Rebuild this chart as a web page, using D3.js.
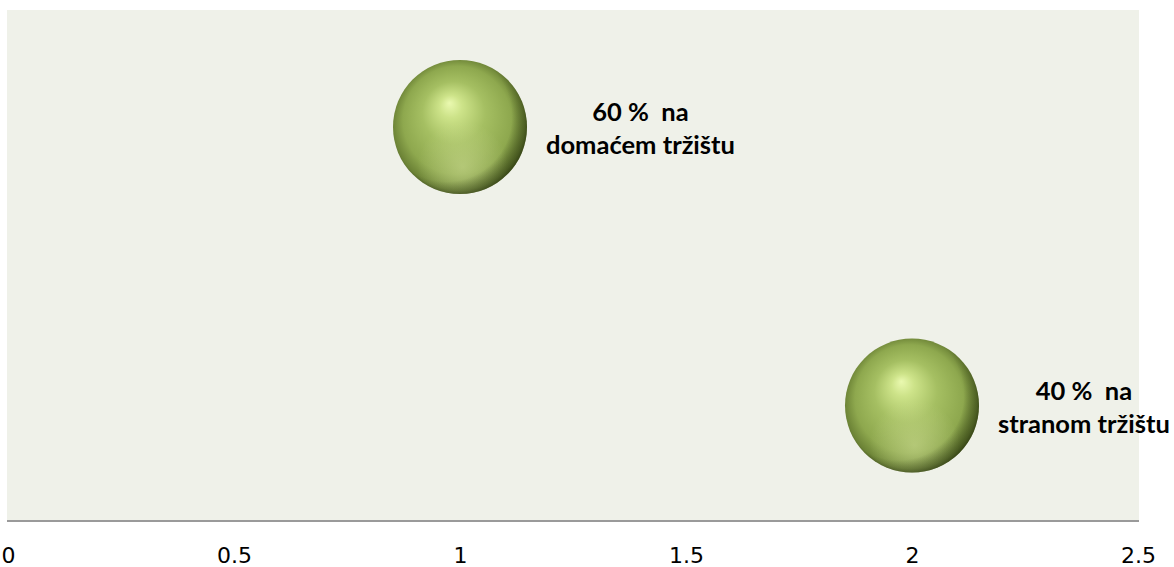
<!DOCTYPE html>
<html>
<head>
<meta charset="utf-8">
<script src="https://cdn.jsdelivr.net/npm/d3@7"></script>
<style>
  html, body { margin: 0; padding: 0; background: #ffffff; }
  svg { display: block; }
</style>
</head>
<body>
<svg id="chart" width="1174" height="567"></svg>
<script>
// ---- data ----
const categories = ["domaće", "strano"];
const xValues = [1, 2];
const yValues = [60, 40];
const bubbleSizes = [1, 1];
const labelLine1 = ["60 %  na", "40 %  na"];
const labelLine2 = ["domaćem tržištu", "stranom tržištu"];
const xTicks = [0, 0.5, 1, 1.5, 2, 2.5];

// ---- layout ----
const plot = { left: 7, right: 1139, top: 10, bottom: 521 };

const svg = d3.select("#chart");

const x = d3.scaleLinear().domain([0, 2.5]).range([8, 1138]);
const y = d3.scaleLinear().domain([31.71, 68.40]).range([plot.bottom, plot.top]);
const r = d3.scaleSqrt().domain([0, 1]).range([0, 67]);

// plot background
svg.append("rect")
  .attr("x", plot.left).attr("y", plot.top)
  .attr("width", plot.right - plot.left)
  .attr("height", plot.bottom - plot.top)
  .attr("fill", "#eff1e9");

// gradients
const defs = svg.append("defs");
const g1 = defs.append("radialGradient")
  .attr("id", "sphere")
  .attr("cx", "0.5").attr("cy", "0.5").attr("r", "0.56")
  .attr("fx", "0.42").attr("fy", "0.32");
[
  [0, "#eaf9b0"],
  [0.15, "#cde389"],
  [0.42, "#a5bf62"],
  [0.72, "#8ea84e"],
  [0.88, "#6c8336"],
  [1, "#2b370f"]
].forEach(([o, c]) => g1.append("stop").attr("offset", o).attr("stop-color", c));

const g2 = defs.append("radialGradient")
  .attr("id", "reflect")
  .attr("cx", "0.52").attr("cy", "0.8").attr("r", "0.34");
g2.append("stop").attr("offset", 0).attr("stop-color", "#d4e29b").attr("stop-opacity", 0.5);
g2.append("stop").attr("offset", 1).attr("stop-color", "#d4e29b").attr("stop-opacity", 0);

const g3 = defs.append("radialGradient")
  .attr("id", "rim")
  .attr("cx", "0.4").attr("cy", "0.42").attr("r", "0.64");
g3.append("stop").attr("offset", 0.76).attr("stop-color", "#1f2a08").attr("stop-opacity", 0);
g3.append("stop").attr("offset", 1).attr("stop-color", "#1f2a08").attr("stop-opacity", 0.6);

// x axis
const axis = d3.axisBottom(x).tickValues(xTicks).tickSize(0).tickPadding(0)
  .tickFormat(d => String(d));
const ax = svg.append("g").attr("transform", `translate(0,${plot.bottom})`).call(axis);
ax.select(".domain").remove();
ax.selectAll("text")
  .attr("dy", null)
  .attr("y", 42)
  .attr("fill", "#000")
  .style("font-family", "'DejaVu Sans', sans-serif")
  .style("font-size", "22px");

svg.append("line")
  .attr("x1", plot.left).attr("x2", plot.right)
  .attr("y1", plot.bottom).attr("y2", plot.bottom)
  .attr("stroke", "#9a9a9a").attr("stroke-width", 2);

// bubbles
const data = categories.map((c, i) => ({
  c, x: xValues[i], y: yValues[i], s: bubbleSizes[i],
  l1: labelLine1[i], l2: labelLine2[i]
}));

const b = svg.append("g").selectAll("g").data(data).join("g");
["sphere", "reflect", "rim"].forEach(id => {
  b.append("circle")
    .attr("cx", d => x(d.x)).attr("cy", d => y(d.y)).attr("r", d => r(d.s))
    .attr("fill", `url(#${id})`);
});

// labels
b.each(function(d) {
  const g = d3.select(this);
  const t = g.append("text")
    .attr("text-anchor", "middle")
    .attr("fill", "#000")
    .style("white-space", "pre")
    .style("font-family", "Lato, 'Open Sans', sans-serif")
    .style("font-weight", "bold")
    .style("font-size", "25.5px");
  const t1 = t.append("tspan").text(d.l1);
  const t2 = t.append("tspan").text(d.l2);
  const w = Math.max(t1.node().getComputedTextLength(), t2.node().getComputedTextLength());
  const cx = x(d.x) + r(d.s) + 19 + w / 2;
  const cy = y(d.y);
  t1.attr("x", cx).attr("y", cy - 6);
  t2.attr("x", cx).attr("y", cy + 27);
});
</script>
</body>
</html>
